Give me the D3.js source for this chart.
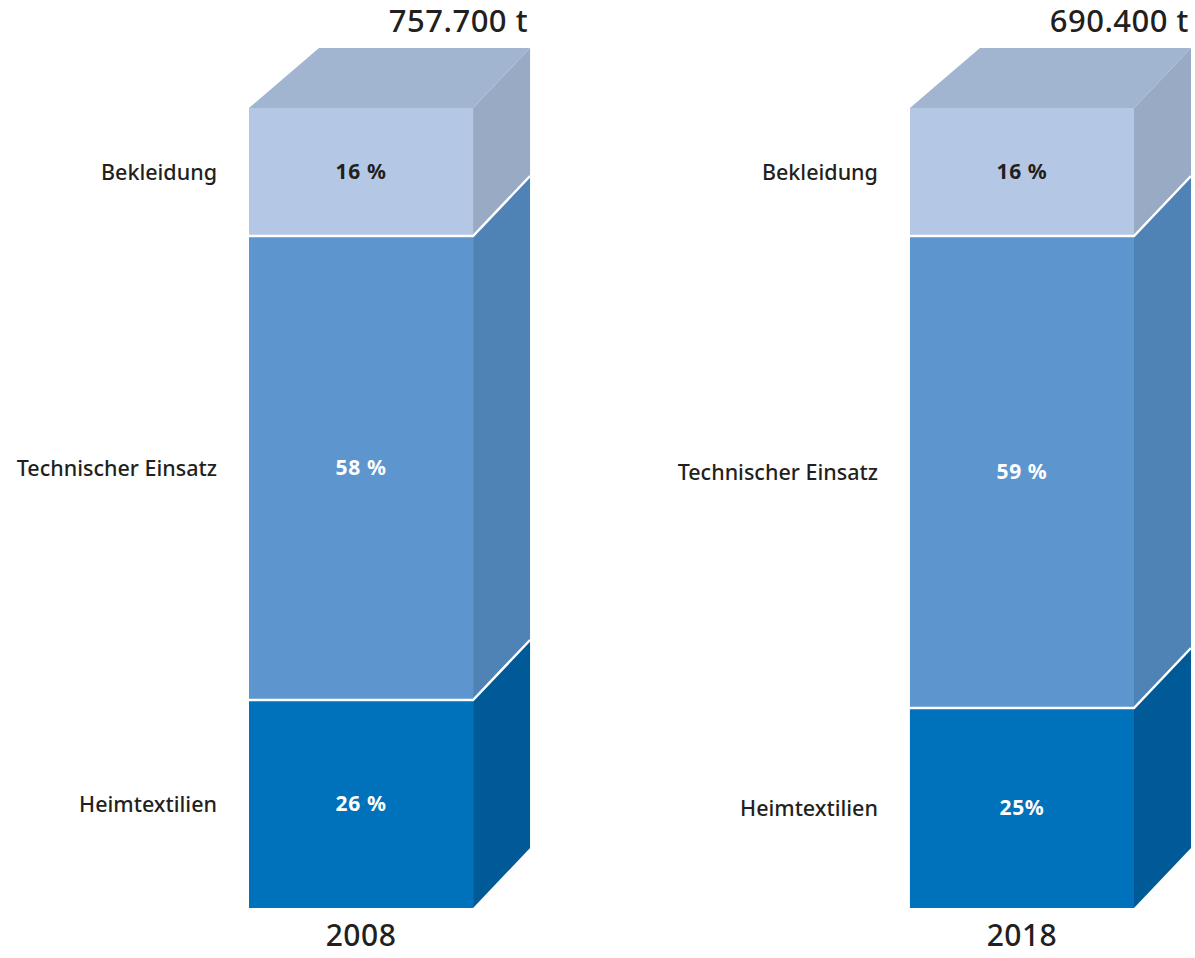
<!DOCTYPE html>
<html lang="de">
<head>
    <meta charset="UTF-8">
    <title>Textilverbrauch 2008 / 2018</title>
    <script src="https://d3js.org/d3.v7.min.js"></script>
    <style>
        body { margin: 0; background: #fff; }
        text { font-family: "Noto Sans", "DejaVu Sans", sans-serif; fill: #231f20; }
    </style>
</head>
<body>
    <div id="chart"></div>
    <script>
        // data, bottom to top
        const years = ['2008', '2018'];
        const totals = ['757.700 t', '690.400 t'];
        const categories = ['Heimtextilien', 'Technischer Einsatz', 'Bekleidung'];
        const shares2008 = [26, 58, 16];
        const shares2018 = [25, 59, 16];
        const shareLabels2008 = ['26 %', '58 %', '16 %'];
        const shareLabels2018 = ['25%', '59 %', '16 %'];

        const width = 1195;
        const height = 958;

        // front / side / top colours per category
        const frontColor = d3.scaleOrdinal().domain(categories).range(['#0071bb', '#5d95cf', '#b4c8e6']);
        const sideColor = d3.scaleOrdinal().domain(categories).range(['#005a98', '#4f83b6', '#98aac4']);
        const topColor = '#a1b5d0';
        const labelColor = d3.scaleOrdinal().domain(categories).range(['#ffffff', '#ffffff', '#231f20']);

        const depthL = 70, depthR = 57, depthY = 60;

        const svg = d3.select('#chart').append('svg')
            .attr('width', width)
            .attr('height', height);

        const x = d3.scaleBand().domain(years).range([249, 1134]).paddingInner(0.661);
        const y = d3.scaleLinear().domain([0, 100]).range([908, 108]);

        const bars = years.map((yr, i) => {
            const shares = i === 0 ? shares2008 : shares2018;
            const labels = i === 0 ? shareLabels2008 : shareLabels2018;
            let acc = 0;
            const segs = shares.map((v, j) => {
                const s = { cat: categories[j], v0: acc, v1: acc + v, label: labels[j] };
                acc += v;
                return s;
            });
            return { year: yr, total: totals[i], segs: segs, sum: acc };
        });

        const bar = svg.selectAll('.bar')
            .data(bars)
            .enter().append('g')
            .attr('class', 'bar');

        bar.each(function(d) {
            const g = d3.select(this);
            const x0 = x(d.year), x1 = x0 + x.bandwidth();
            const line = d3.line();

            d.segs.forEach(s => {
                const yb = y(s.v0), yt = y(s.v1);
                // front
                g.append('rect')
                    .attr('x', x0).attr('y', yt)
                    .attr('width', x1 - x0).attr('height', yb - yt)
                    .attr('fill', frontColor(s.cat));
                // side
                g.append('path')
                    .attr('d', line([[x1, yb], [x1, yt], [x1 + depthR, yt - depthY], [x1 + depthR, yb - depthY]]) + 'Z')
                    .attr('fill', sideColor(s.cat));
            });

            // top face
            const yTop = y(d.sum);
            g.append('path')
                .attr('d', line([[x0, yTop], [x0 + depthL, yTop - depthY], [x1 + depthR, yTop - depthY], [x1, yTop]]) + 'Z')
                .attr('fill', topColor);

            // white separators
            d.segs.slice(1).forEach(s => {
                const yy = y(s.v0);
                g.append('path')
                    .attr('d', line([[x0, yy], [x1, yy], [x1 + depthR, yy - depthY]]))
                    .attr('fill', 'none')
                    .attr('stroke', '#fff')
                    .attr('stroke-width', 2.5);
            });

            // share labels
            d.segs.forEach(s => {
                g.append('text')
                    .attr('x', (x0 + x1) / 2)
                    .attr('y', (y(s.v0) + y(s.v1)) / 2)
                    .attr('dy', '0.35em')
                    .attr('text-anchor', 'middle')
                    .style('font-size', '21px')
                    .style('font-weight', 700)
                    .style('letter-spacing', '0.6px')
                    .style('fill', labelColor(s.cat))
                    .text(s.label);

                // category labels left of the bar
                g.append('text')
                    .attr('x', x0 - 32)
                    .attr('y', (y(s.v0) + y(s.v1)) / 2)
                    .attr('dy', '0.35em')
                    .attr('text-anchor', 'end')
                    .style('font-size', '21.5px')
                    .style('font-weight', 500)
                    .text(s.cat);
            });

            // total on top
            g.append('text')
                .attr('x', x1 + depthR - 2)
                .attr('y', yTop - depthY - 16)
                .attr('text-anchor', 'end')
                .style('font-size', '31px')
                .style('font-weight', 500)
                .style('letter-spacing', '0.5px')
                .text(d.total);

            // year below
            g.append('text')
                .attr('x', (x0 + x1) / 2)
                .attr('y', 946)
                .attr('text-anchor', 'middle')
                .style('font-size', '30px')
                .style('font-weight', 500)
                .style('letter-spacing', '0.5px')
                .text(d.year);
        });
    </script>
</body>
</html>
